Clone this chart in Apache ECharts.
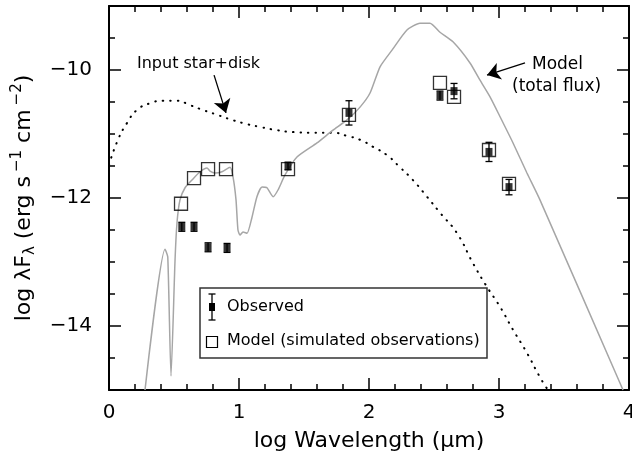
<!DOCTYPE html>
<html>
<head>
<meta charset="utf-8">
<script src="https://cdn.jsdelivr.net/npm/echarts@6/dist/echarts.min.js"></script>
<style>
  html, body { margin: 0; padding: 0; background: #fff; }
  #chart { width: 632px; height: 460px; }
</style>
</head>
<body>
<div id="chart"></div>
<script>
// total model flux (grey line)
var modelX = [0.277, 0.431, 0.452, 0.477, 0.508, 0.523, 0.546, 0.585, 0.638, 0.70, 0.754, 0.777, 0.815, 0.869, 0.931, 0.954, 0.977, 0.992, 1.008, 1.031, 1.062, 1.10, 1.138, 1.177, 1.215, 1.262, 1.30, 1.354, 1.446, 1.60, 1.723, 1.831, 1.931, 2.008, 2.085, 2.177, 2.292, 2.392, 2.469, 2.546, 2.646, 2.777, 2.854, 2.931, 3.008, 3.108, 3.215, 3.315, 3.954];
var modelY = [-15.0, -12.80, -12.92, -14.78, -12.97, -12.39, -12.03, -11.84, -11.72, -11.59, -11.53, -11.58, -11.61, -11.59, -11.52, -11.67, -12.03, -12.50, -12.58, -12.53, -12.55, -12.30, -11.98, -11.83, -11.84, -11.98, -11.875, -11.64, -11.36, -11.14, -10.94, -10.78, -10.58, -10.36, -9.95, -9.69, -9.375, -9.27, -9.27, -9.41, -9.56, -9.89, -10.16, -10.42, -10.73, -11.14, -11.61, -12.03, -15.0];

// input star+disk (dotted line)
var inputX = [0.0, 0.069, 0.138, 0.215, 0.315, 0.415, 0.523, 0.623, 0.723, 0.831, 0.931, 1.031, 1.162, 1.292, 1.415, 1.569, 1.723, 1.831, 1.931, 2.031, 2.138, 2.238, 2.338, 2.446, 2.546, 2.677, 2.80, 2.908, 3.008, 3.108, 3.215, 3.315, 3.377];
var inputY = [-11.48, -11.09, -10.83, -10.625, -10.52, -10.48, -10.48, -10.55, -10.625, -10.70, -10.77, -10.83, -10.89, -10.94, -10.97, -10.98, -10.98, -11.03, -11.09, -11.20, -11.33, -11.52, -11.72, -11.98, -12.23, -12.55, -13.02, -13.39, -13.70, -14.06, -14.42, -14.80, -15.0];

// observed photometry with errors
var obsX = [0.56, 0.654, 0.762, 0.908, 1.377, 1.846, 2.546, 2.654, 2.923, 3.077];
var obsY = [-12.45, -12.45, -12.77, -12.78, -11.50, -10.67, -10.40, -10.33, -11.28, -11.83];
var obsErr = [0.07, 0.07, 0.07, 0.07, 0.06, 0.19, 0.07, 0.12, 0.15, 0.12];

// model simulated observations (open squares)
var simX = [0.554, 0.654, 0.762, 0.90, 1.377, 1.846, 2.546, 2.654, 2.923, 3.077];
var simY = [-12.09, -11.69, -11.55, -11.55, -11.55, -10.70, -10.20, -10.42, -11.25, -11.78];

var xTicks = [0, 1, 2, 3, 4];
var yTicks = [-14, -12, -10];

var FONT = 'DejaVu Sans';

function zip(a, b) {
  return a.map(function (v, i) { return [v, b[i]]; });
}

var chart = echarts.init(document.getElementById('chart'), null, { renderer: 'canvas' });

var axisLine = { show: true, lineStyle: { color: '#000', width: 2 } };

var option = {
  animation: false,
  backgroundColor: '#fff',
  grid: { left: 109, right: 3, top: 6, bottom: 70, outerBoundsMode: 'none', containLabel: false },
  xAxis: [{
    type: 'value', min: 0, max: 4, interval: 1, position: 'bottom',
    axisLine: axisLine,
    axisTick: { inside: true, length: 12, lineStyle: { color: '#000', width: 1.5 } },
    minorTick: { show: true, splitNumber: 5, length: 6, lineStyle: { color: '#000', width: 1.5 } },
    splitLine: { show: false },
    axisLabel: {
      margin: 13, color: '#000', fontFamily: FONT, fontSize: 20,
      formatter: function (v) { return xTicks.indexOf(v) >= 0 ? String(v) : ''; }
    },
    name: 'log Wavelength (μm)', nameLocation: 'middle', nameGap: 40,
    nameTextStyle: { color: '#000', fontFamily: FONT, fontSize: 22 }
  }, {
    type: 'value', min: 0, max: 4, interval: 1, position: 'top',
    axisLine: axisLine,
    axisTick: { inside: true, length: 12, lineStyle: { color: '#000', width: 1.5 } },
    minorTick: { show: true, splitNumber: 5, length: 6, lineStyle: { color: '#000', width: 1.5 } },
    splitLine: { show: false },
    axisLabel: { show: false }
  }],
  yAxis: [{
    type: 'value', min: -15, max: -9, interval: 0.5, position: 'left',
    axisLine: axisLine,
    axisTick: { inside: true, length: 6, lineStyle: { color: '#000', width: 1.5 } },
    splitLine: { show: false },
    axisLabel: {
      customValues: yTicks,
      margin: 17, color: '#000', fontFamily: FONT, fontSize: 20,
      formatter: function (v) { return '\u2212' + Math.abs(v); }
    },
    name: '{a|log λF}{sub|λ}{a| (erg s}{sup|−1}{a| cm}{sup|−2}{a|)}',
    nameLocation: 'middle', nameGap: 70,
    nameTextStyle: {
      color: '#000', fontFamily: FONT, fontSize: 22,
      rich: {
        a: { fontFamily: FONT, fontSize: 22, color: '#000' },
        sub: { fontFamily: FONT, fontSize: 15, color: '#000', padding: [12, 0, 0, 0] },
        sup: { fontFamily: FONT, fontSize: 15, color: '#000', padding: [0, 0, 14, 4] }
      }
    }
  }, {
    type: 'value', min: -15, max: -9, interval: 0.5, position: 'left',
    axisLine: { show: false },
    axisTick: { inside: true, length: 12, customValues: yTicks, lineStyle: { color: '#000', width: 1.5 } },
    splitLine: { show: false },
    axisLabel: { show: false }
  }, {
    type: 'value', min: -15, max: -9, interval: 0.5, position: 'right',
    axisLine: axisLine,
    axisTick: { inside: true, length: 6, lineStyle: { color: '#000', width: 1.5 } },
    splitLine: { show: false },
    axisLabel: { show: false }
  }, {
    type: 'value', min: -15, max: -9, interval: 0.5, position: 'right',
    axisLine: { show: false },
    axisTick: { inside: true, length: 12, customValues: yTicks, lineStyle: { color: '#000', width: 1.5 } },
    splitLine: { show: false },
    axisLabel: { show: false }
  }],
  series: [{
    name: 'input',
    type: 'line',
    data: zip(inputX, inputY),
    showSymbol: false,
    smooth: true,
    clip: true,
    lineStyle: { color: '#000', width: 2, type: [0.5, 7], cap: 'round' },
    z: 2
  }, {
    name: 'model',
    type: 'line',
    data: zip(modelX, modelY),
    showSymbol: false,
    smooth: 0.2,
    clip: true,
    lineStyle: { color: '#a6a6a6', width: 1.5 },
    z: 3,
    markLine: {
      silent: true,
      symbol: ['none', 'arrow'],
      symbolSize: 13,
      label: { show: false },
      lineStyle: { color: '#000', width: 1.3, type: 'solid' },
      data: [
        [{ coord: [0.808, -10.08] }, { coord: [0.90, -10.67] }],
        [{ coord: [3.20, -9.89] }, { coord: [2.908, -10.08] }]
      ]
    }
  }, {
    name: 'errors',
    type: 'custom',
    data: obsX.map(function (x, i) { return [x, obsY[i] - obsErr[i], obsY[i] + obsErr[i]]; }),
    renderItem: function (params, api) {
      var lo = api.coord([api.value(0), api.value(1)]);
      var hi = api.coord([api.value(0), api.value(2)]);
      var w = 3.5;
      var st = { stroke: '#000', lineWidth: 1.3 };
      return {
        type: 'group',
        children: [
          { type: 'line', shape: { x1: lo[0], y1: lo[1], x2: hi[0], y2: hi[1] }, style: st },
          { type: 'line', shape: { x1: lo[0] - w, y1: lo[1], x2: lo[0] + w, y2: lo[1] }, style: st },
          { type: 'line', shape: { x1: hi[0] - w, y1: hi[1], x2: hi[0] + w, y2: hi[1] }, style: st }
        ]
      };
    },
    z: 4
  }, {
    name: 'simulated',
    type: 'scatter',
    data: zip(simX, simY),
    symbol: 'rect',
    symbolSize: 13,
    itemStyle: { color: 'rgba(255,255,255,0)', borderColor: '#000', borderWidth: 1.3 },
    z: 5
  }, {
    name: 'observed',
    type: 'scatter',
    data: zip(obsX, obsY),
    symbol: 'rect',
    symbolSize: [7, 8],
    itemStyle: { color: '#000' },
    z: 6
  }],
  graphic: [
    { type: 'text', left: 137, top: 56, z: 10,
      style: { text: 'Input star+disk', fontFamily: FONT, fontSize: 16, fill: '#000' } },
    { type: 'text', left: 532, top: 56, z: 10,
      style: { text: 'Model', fontFamily: FONT, fontSize: 17, fill: '#000' } },
    { type: 'text', left: 512, top: 78, z: 10,
      style: { text: '(total flux)', fontFamily: FONT, fontSize: 17, fill: '#000' } },
    // legend box
    { type: 'rect', z: 20, shape: { x: 200, y: 288, width: 287, height: 70 },
      style: { fill: '#fff', stroke: '#333', lineWidth: 1.5 } },
    { type: 'line', z: 21, shape: { x1: 212, y1: 294, x2: 212, y2: 320 }, style: { stroke: '#000', lineWidth: 1.3 } },
    { type: 'line', z: 21, shape: { x1: 208.5, y1: 294, x2: 215.5, y2: 294 }, style: { stroke: '#000', lineWidth: 1.3 } },
    { type: 'line', z: 21, shape: { x1: 208.5, y1: 320, x2: 215.5, y2: 320 }, style: { stroke: '#000', lineWidth: 1.3 } },
    { type: 'rect', z: 21, shape: { x: 209, y: 303, width: 6, height: 8 }, style: { fill: '#000' } },
    { type: 'text', z: 21, left: 227, top: 299,
      style: { text: 'Observed', fontFamily: FONT, fontSize: 16, fill: '#000' } },
    { type: 'rect', z: 21, shape: { x: 206.5, y: 336.5, width: 11, height: 11 },
      style: { fill: '#fff', stroke: '#000', lineWidth: 1.2 } },
    { type: 'text', z: 21, left: 227, top: 333,
      style: { text: 'Model (simulated observations)', fontFamily: FONT, fontSize: 16, fill: '#000' } }
  ]
};

chart.setOption(option);
</script>
</body>
</html>
